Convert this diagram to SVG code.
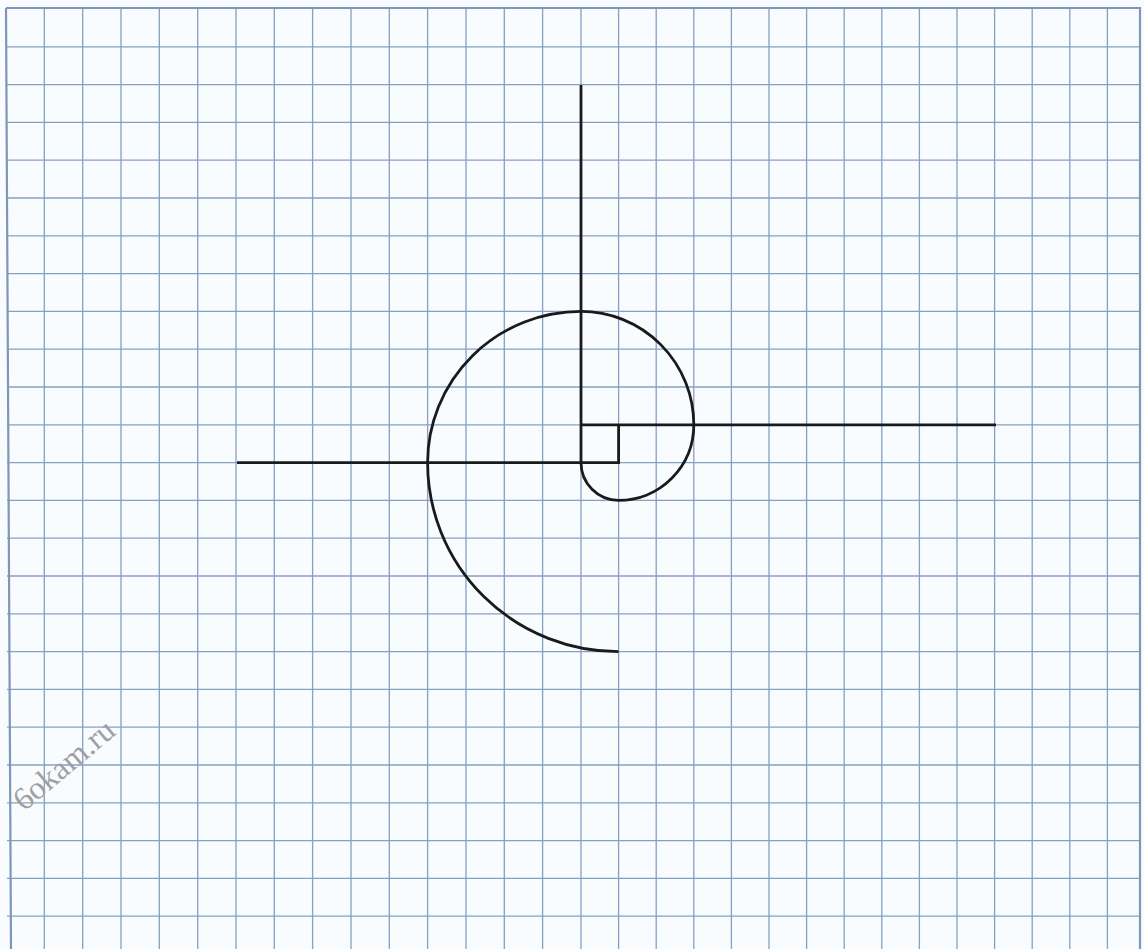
<svg xmlns="http://www.w3.org/2000/svg" width="1144" height="949" viewBox="0 0 1144 949">
<style>
.g{stroke:#86a0c4;stroke-width:1.3;fill:none}
.b{stroke:#7e96b8;stroke-width:2.2;fill:none}
.k{stroke:#1a1a1a;stroke-width:2.8;fill:none;stroke-linecap:butt}
.wm{font-family:"Liberation Serif",serif;font-size:32px;fill:#a0a0a0}
</style>
<rect width="1144" height="949" fill="#f8fcfe"/>
<g id="grid">
<path class="g" d="M44.3 8V949M82.7 8V949M121 8V949M159.3 8V949M197.7 8V949M236 8V949M274.3 8V949M312.6 8V949M351 8V949M389.3 8V949M427.6 8V949M466 8V949M504.3 8V949M542.6 8V949M581 8V949M618.6 8V949M656.2 8V949M693.8 8V949M731.4 8V949M769 8V949M806.6 8V949M844.2 8V949M881.8 8V949M919.4 8V949M957 8V949M994.6 8V949M1032.2 8V949M1069.8 8V949M1107.4 8V949"/>
<path class="g" d="M7 46.8H1140M7 84.6H1140M7 122.4H1140M7 160.2H1140M7 198H1140M7 235.8H1140M7 273.6H1140M7 311.4H1140M7 349.2H1140M7 387H1140M7 424.8H1140M7 462.6H1140M7 500.4H1140M7 538.2H1140M7 576H1140M7 613.8H1140M7 651.6H1140M7 689.4H1140M7 727.2H1140M7 765H1140M7 802.8H1140M7 840.6H1140M7 878.4H1140M7 916.2H1140"/>
<path class="b" d="M6 8H1140V949M6 8L11 949"/>
</g>
<g id="connectors">
<path class="k" d="M581 85V462.6H618.6V424.8H581M581 424.8H996M237 462.6H581"/>
</g>
<g id="spiral">
<path class="k" d="M581 462.6A37.6 37.8 0 0 0 618.6 500.4A75.2 75.6 0 0 0 693.8 424.8A112.8 113.4 0 0 0 581 311.4A153.4 151.2 0 0 0 427.6 462.6A191 189 0 0 0 618.6 651.6"/>
</g>
<text class="wm" transform="translate(24,812) rotate(-40)">6okam.ru</text>
</svg>
